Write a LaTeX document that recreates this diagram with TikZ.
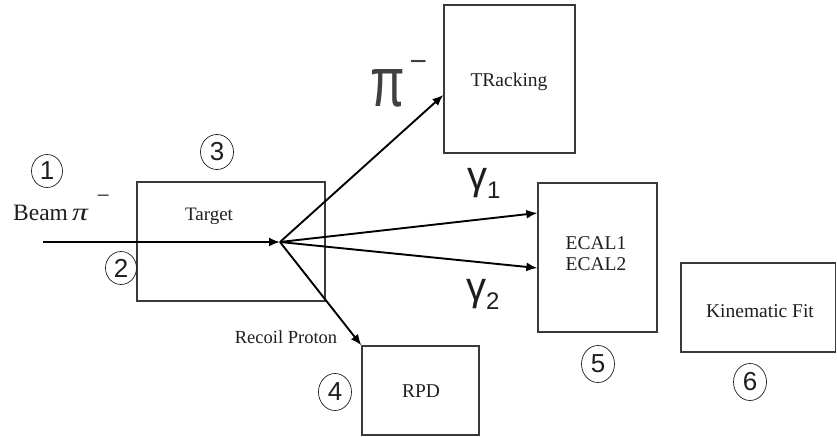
\documentclass[tikz,border=0pt]{standalone}
\usepackage{fontspec}
\setmainfont{Liberation Serif}
\newfontfamily\numfont{Liberation Sans}
\usetikzlibrary{arrows.meta,shapes.geometric}
\newcommand\fsz[1]{\fontsize{#1}{#1}\selectfont}
\definecolor{boxgray}{HTML}{3A3A3A}
\definecolor{txt}{HTML}{1E1E1E}
\begin{document}
\begin{tikzpicture}[x=1pt,y=-1pt,
  box/.style={draw=boxgray, line width=1.3pt, inner sep=0pt, rectangle},
  lbl/.style={anchor=base, inner sep=0pt, text=txt},
  arr/.style={line width=1.9pt, -{Latex[length=11pt,width=9pt]}},
  circ/.style={ellipse, draw=txt, line width=0.7pt, inner sep=0pt,
    minimum width=33pt, minimum height=37pt, font=\numfont\fsz{26}, text=txt}]
\useasboundingbox (0,0) rectangle (837,436);
% boxes
\node[box, minimum width=188pt, minimum height=119pt] (tgt) at (231,241.5) {};
\node[box, minimum width=131pt, minimum height=148pt] (trk) at (509.5,79) {};
\node[box, minimum width=119pt, minimum height=149pt] (ecal) at (597.5,257.5) {};
\node[box, minimum width=154.5pt, minimum height=89pt] (kin) at (758.25,307.5) {};
\node[box, minimum width=117pt, minimum height=89pt] (rpd) at (420.5,390.5) {};
% texts
\node[lbl, font=\fsz{19}] (tgtl) at (209,220) {Target};
\node[lbl, font=\fsz{19.5}] (trkl) at (509,86) {TRacking};
\node[lbl, font=\fsz{19.5}] (ecl1) at (596,249) {ECAL1};
\node[lbl, font=\fsz{19.5}] (ecl2) at (596,270) {ECAL2};
\node[lbl, font=\fsz{19.5}] (kinl) at (760,317) {Kinematic Fit};
\node[lbl, font=\fsz{19.5}] (rpdl) at (421,397) {RPD};
\node[lbl, font=\fsz{18.5}] (recl) at (286,343) {Recoil Proton};
\node[lbl, anchor=base west, font=\fsz{23.5}] (beaml) at (13,220)
  {Beam\hspace{4pt}\scalebox{1.35}[1.05]{\textit{π}}\hspace{8pt}\raisebox{17pt}{−}};
\node[lbl, anchor=base west, text=black!75] (pil) at (370,106)
  {\numfont\fsz{50}\scalebox{1}[1.4]{π}\hspace{5pt}\raisebox{35pt}{\fsz{30}−}};
\node[lbl, anchor=base west] (g1) at (467,198)
  {\numfont\fsz{40}\raisebox{0.21em}{γ}\fsz{24}1};
\node[lbl, anchor=base west] (g2) at (466,309)
  {\numfont\fsz{40}\raisebox{0.21em}{γ}\fsz{24}2};
% circled numbers
\node[circ, minimum width=31pt, minimum height=33pt] (n1) at (47,171) {1};
\node[circ, minimum width=31pt, minimum height=33pt] (n2) at (121,268) {2};
\node[circ, minimum width=33pt, minimum height=35pt] (n3) at (217,152) {3};
\node[circ] (n4) at (335,392) {4};
\node[circ] (n5) at (598,364) {5};
\node[circ] (n6) at (750,382) {6};
% connectors
\coordinate (beam) at (43,242);
\coordinate (vtx) at (280,242);
\draw[arr] (beam) -- (vtx);
\draw[arr] (vtx) -- ([yshift=-16pt]trk.west);
\draw[arr] (vtx) -- ([yshift=44.5pt]ecal.west);
\draw[arr] (vtx) -- ([yshift=-10.5pt]ecal.west);
\draw[arr] (vtx) -- (rpd.north west);
\end{tikzpicture}
\end{document}
